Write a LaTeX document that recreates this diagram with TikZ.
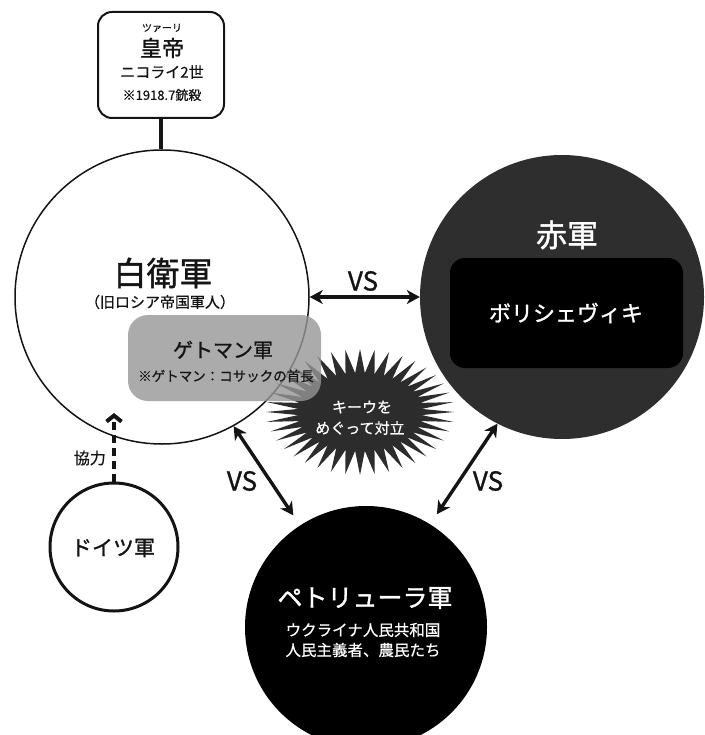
\documentclass[tikz,border=0pt]{standalone}
\usepackage{fontspec}
\setmainfont{Noto Sans CJK JP}[FakeBold=0.6]
\newfontfamily\jptitle{Noto Sans CJK JP}[FakeBold=1.2]
\usetikzlibrary{arrows.meta}
\definecolor{redarmy}{RGB}{46,46,46}
\definecolor{burstc}{RGB}{44,44,44}
\definecolor{getmanc}{RGB}{150,150,150}
\definecolor{inkc}{RGB}{20,20,20}
\tikzset{
  jp/.style={font=\fontsize{#1}{#1}\selectfont, inner sep=0pt, text=inkc},
  jpw/.style={font=\fontsize{#1}{#1}\selectfont, inner sep=0pt, text=white},
  jpt/.style={font=\jptitle\fontsize{#1}{#1}\selectfont, inner sep=0pt, text=inkc},
  jptw/.style={font=\jptitle\fontsize{#1}{#1}\selectfont, inner sep=0pt, text=white},
  vsarrow/.style={line width=3.4pt, {Stealth[length=13pt,width=14pt,inset=4pt]}-{Stealth[length=13pt,width=14pt,inset=4pt]}},
  coopline/.style={line width=4pt, dash pattern=on 8pt off 5pt, -{Straight Barb[length=6pt,width=15pt]}},
}
\begin{document}
\begin{tikzpicture}[x=1pt,y=-1pt]
\useasboundingbox (0,0) rectangle (704,735);

% White army circle
\node[circle, draw=inkc, line width=1.5pt, fill=white, minimum size=294pt, inner sep=0pt] (white) at (162,297) {};

% Starburst (Kyiv)
\fill[burstc] plot[domain=0:360, samples=81]
  ({360+(94-32*mod(round(\x/4.5),2))*cos(\x)}, {412+(63-24*mod(round(\x/4.5),2))*sin(\x)}) -- cycle;
\node[jpw=15] (kiev1) at (362,407) {キーウを};
\node[jpw=15] (kiev2) at (360,428) {めぐって対立};

% Hetman box (semi-transparent)
\node[rounded corners=20pt, fill=getmanc, fill opacity=0.8, minimum width=193pt, minimum height=86pt, inner sep=0pt] (getman) at (224.5,358) {};
\node[jpt=20] (getmant) at (223,350) {ゲトマン軍};
\node[jp=13.5] (getmann) at (226,376) {※ゲトマン：コサックの首長};

% White army texts
\node[jpt=33] (whitet) at (163,273) {白衛軍};
\node[jp=15] (whites) at (160,302) {（旧ロシア帝国軍人）};

% Red army
\node[circle, fill=redarmy, minimum size=284pt, inner sep=0pt] (red) at (562,297) {};
\node[jptw=31] (redt) at (567,235) {赤軍};
\node[fill=black, rounded corners=15pt, minimum width=233pt, minimum height=110pt, inner sep=0pt] (bol) at (566.5,313) {};
\node[jptw=22] (bolt) at (566,313) {ボリシェヴィキ};

% Petliura army
\node[circle, fill=black, minimum size=242pt, inner sep=0pt] (pet) at (366,627) {};
\node[jptw=25] (pett) at (365,598) {ペトリューラ軍};
\node[jpw=15.5] (pets1) at (363,630) {ウクライナ人民共和国};
\node[jpw=15.5] (pets2) at (363,650) {人民主義者、農民たち};

% German army
\node[circle, draw=inkc, line width=3pt, minimum size=128pt, inner sep=0pt] (ger) at (114,547) {};
\node[jpt=21] (gert) at (113,548) {ドイツ軍};
\coordinate (gtip) at (114,413);
\draw[coopline, inkc] (ger.north) -- (gtip);
\node[jp=16, anchor=east] (coop) at (106,458) {協力};

% VS arrows
\draw[vsarrow, inkc] (white.east) -- (red.west);
\node[jpt=26] (vs1) at (363,281) {VS};
\draw[vsarrow, inkc, shorten >=12pt] (white.-61.5) -- (pet.123);
\node[jpt=26] (vs2) at (242,481) {VS};
\draw[vsarrow, inkc, shorten >=12pt] (red.-117) -- (pet.58);
\node[jpt=26] (vs3) at (488,481) {VS};

% Tsar box
\node[draw=inkc, line width=2pt, rounded corners=14pt, minimum width=126pt, minimum height=106pt, inner sep=0pt, fill=white] (tsar) at (161,65) {};
\node[jp=10] (tsarruby) at (162,28) {ツァーリ};
\node[jpt=22] (tsart) at (162,48) {皇帝};
\node[jp=15] (tsarn) at (162,72) {ニコライ2世};
\node[jp=13] (tsard) at (162,95) {※1918.7銃殺};
\draw[line width=4.5pt, inkc] (tsar.south) -- (tsar.south |- white.north);
\end{tikzpicture}
\end{document}
